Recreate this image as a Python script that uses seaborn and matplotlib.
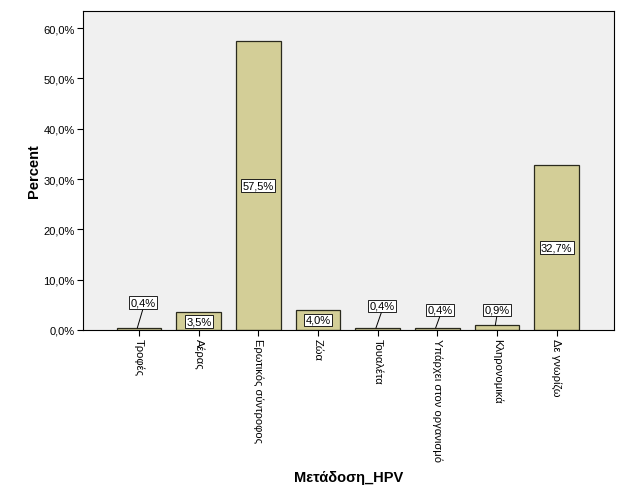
import matplotlib
matplotlib.use("Agg")
import matplotlib.pyplot as plt
import seaborn as sns
import pandas as pd

categories = ["Τροφές", "Αέρας", "Ερωτικός σύντροφος", "Ζώα", "Τουαλέτα",
              "Υπάρχει στον οργανισμό", "Κληρονομικά", "Δε γνωρίζω"]
percents = [0.4, 3.5, 57.5, 4.0, 0.4, 0.4, 0.9, 32.7]
value_labels = ["0,4%", "3,5%", "57,5%", "4,0%", "0,4%", "0,4%", "0,9%", "32,7%"]
yticks = [0, 10, 20, 30, 40, 50, 60]
ytick_labels = ["0,0%", "10,0%", "20,0%", "30,0%", "40,0%", "50,0%", "60,0%"]

sns.set_style("white")
plt.rcParams['font.family'] = ['Liberation Sans', 'DejaVu Sans']
plt.rcParams['text.color'] = 'black'
plt.rcParams['axes.labelcolor'] = 'black'
plt.rcParams['xtick.color'] = 'black'
plt.rcParams['ytick.color'] = 'black'

df = pd.DataFrame({"cat": categories, "pct": percents})

fig = plt.figure(figsize=(6.27, 5.02), dpi=100)
ax = fig.add_axes([83/627, 1-331/502, (614-83)/627, (331-12)/502])
ax.set_facecolor("#F0F0F0")

sns.barplot(data=df, x="cat", y="pct", ax=ax, color="#D3CE97",
            edgecolor="#2a2a1e", linewidth=0.9, width=0.75, saturation=1)

ax.set_xlim(-0.94, 7.96)
ax.set_ylim(0, 63.4)
ax.set_yticks(yticks)
ax.set_yticklabels(ytick_labels, fontsize=8)
ax.set_xticks(range(len(categories)))
ax.set_xticklabels(categories, rotation=-90, fontsize=8, va="top", ha="center")
ax.tick_params(axis="both", direction="out", length=4, width=0.8, color="black",
               bottom=True, left=True, pad=2)
for s in ax.spines.values():
    s.set_color("black")
    s.set_linewidth(0.8)

ax.set_xlabel("Μετάδοση_HPV", fontsize=10.5, fontweight="bold", labelpad=6)
ax.set_ylabel("Percent", fontsize=10.5, fontweight="bold", labelpad=2)

# label positions: small bars get labels above with leader lines
small_offsets = {0: (0.07, 5.4), 4: (0.07, 4.8), 5: (0.05, 4.0), 6: (0.0, 4.0)}
box = dict(boxstyle="square,pad=0.12", facecolor="white", edgecolor="black", linewidth=0.6)
for i, (v, lab) in enumerate(zip(percents, value_labels)):
    if i in small_offsets:
        dx, y = small_offsets[i]
        ax.plot([i + dx, i - 0.03], [y - 1.0, v], color="black", lw=0.7)
        ax.text(i + dx, y, lab, ha="center", va="center", fontsize=8, bbox=box)
    else:
        ax.text(i, v / 2, lab, ha="center", va="center", fontsize=8, bbox=box)

fig.savefig("out.png", dpi=100)
